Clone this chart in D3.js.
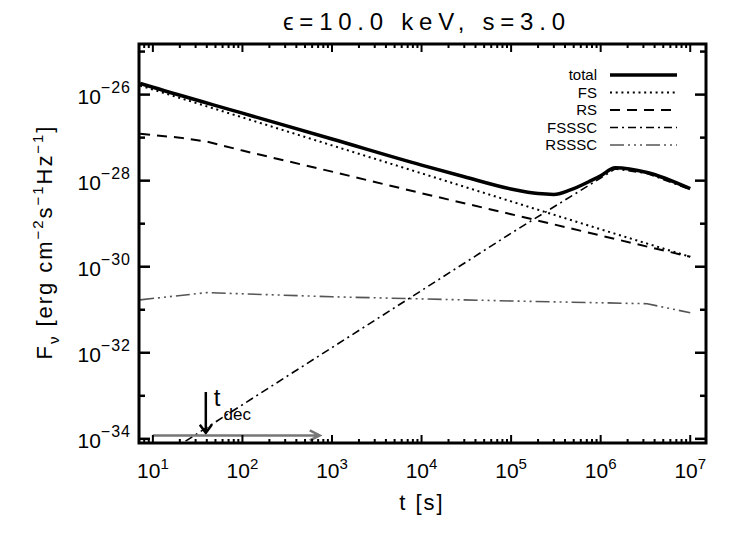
<!DOCTYPE html>
<html><head><meta charset="utf-8">
<script src="https://cdn.jsdelivr.net/npm/d3@7"></script>
<style>body{margin:0;background:#fff}svg{display:block}text{font-family:"Liberation Sans",Arial,sans-serif;fill:#000}</style>
</head><body><svg id="c" width="747" height="533"></svg>
<script>
// ---- data ----
const title = "ϵ=10.0 keV, s=3.0";
const xTickVals = [1e1, 1e2, 1e3, 1e4, 1e5, 1e6, 1e7];
const xTickExp = ["1", "2", "3", "4", "5", "6", "7"];
const yTickVals = [1e-26, 1e-28, 1e-30, 1e-32, 1e-34];
const yTickExp = ["−26", "−28", "−30", "−32", "−34"];
const yMinorVals = [1e-25, 1e-27, 1e-29, 1e-31, 1e-33];

const tTotal = [7.2, 10, 100, 1e3, 1e4, 3e4, 1e5, 2e5, 3e5, 4.5e5, 8e5, 1e6, 1.45e6, 3.3e6, 1e7];
const fTotal = [1.82e-26, 1.48e-26, 3.7e-27, 9.3e-28, 2.3e-28, 1.23e-28, 6.4e-29, 5.0e-29, 4.8e-29, 6.0e-29, 1.03e-28, 1.3e-28, 2.0e-28, 1.55e-28, 6.5e-29];
const tFS = [7.2, 1e2, 1e3, 1e4, 1e5, 1e6, 1e7];
const fFS = [1.62e-26, 2.95e-27, 6.6e-28, 1.48e-28, 3.3e-29, 7.4e-30, 1.7e-30];
const tRS = [7.2, 20, 40, 1e2, 1e3, 1e4, 1e5, 1e6, 1e7];
const fRS = [1.23e-27, 1.0e-27, 8.1e-28, 5.0e-28, 1.62e-28, 5.1e-29, 1.66e-29, 5.3e-30, 1.7e-30];
const tFSSSC = [7.2, 1e2, 1e3, 1e4, 1e5, 1e6, 1.45e6, 3.3e6, 1e7];
const fFSSSC = [1.86e-35, 6.2e-34, 1.32e-32, 2.8e-31, 6.0e-30, 1.15e-28, 1.88e-28, 1.47e-28, 6.2e-29];
const tRSSSC = [7.2, 40, 1e3, 1e5, 3.3e6, 1e7];
const fRSSSC = [1.7e-31, 2.5e-31, 2.0e-31, 1.6e-31, 1.38e-31, 8.5e-32];

const seriesNames = ["total", "FS", "RS", "FSSSC", "RSSSC"];
const tDec = 39;
const decArrowF = [1.23e-33, 1.38e-34];
const spanT = [10, 730];
const spanF = 1.2e-34;

// ---- styles ----
const styles = {
  total: {w: 3.5, dash: null, c: "#000"},
  FS: {w: 2, dash: "2,3.7", c: "#000"},
  RS: {w: 2, dash: "10,7", c: "#000"},
  FSSSC: {w: 1.6, dash: "8,4,2,4", c: "#000"},
  RSSSC: {w: 1.6, dash: "14,4,2,4,2,4,2,4", c: "#555"}
};
const seriesData = {
  total: tTotal.map((t, i) => [t, fTotal[i]]),
  FS: tFS.map((t, i) => [t, fFS[i]]),
  RS: tRS.map((t, i) => [t, fRS[i]]),
  FSSSC: tFSSSC.map((t, i) => [t, fFSSSC[i]]),
  RSSSC: tRSSSC.map((t, i) => [t, fRSSSC[i]])
};

const L = 139, R = 706, T = 44, B = 443;
const x = d3.scaleLog().domain([7, 1.5e7]).range([L, R]);
const y = d3.scaleLog().domain([8e-35, 1.5e-25]).range([B, T]);

const svg = d3.select("#c");
svg.append("rect").attr("width", 747).attr("height", 533).attr("fill", "#fff");
svg.append("defs").append("clipPath").attr("id", "clip")
  .append("rect").attr("x", L).attr("y", T).attr("width", R - L).attr("height", B - T);

const g = svg.append("g").attr("clip-path", "url(#clip)");
const line = d3.line().x(d => x(d[0])).y(d => y(d[1]));
const lineSmooth = d3.line().x(d => x(d[0])).y(d => y(d[1])).curve(d3.curveMonotoneX);

["RSSSC", "FSSSC", "RS", "FS", "total"].forEach(k => {
  const s = styles[k];
  g.append("path").datum(seriesData[k])
    .attr("d", k === "total" ? lineSmooth : line)
    .attr("fill", "none").attr("stroke", s.c).attr("stroke-width", s.w)
    .attr("stroke-dasharray", s.dash).attr("stroke-linejoin", "round");
});

// arrows
const ax = x(tDec), ay0 = y(decArrowF[0]), ay1 = y(decArrowF[1]);
svg.append("path").attr("d", `M${ax},${ay0}L${ax},${ay1}M${ax - 6},${ay1 - 8}L${ax},${ay1}L${ax + 6},${ay1 - 8}`)
  .attr("fill", "none").attr("stroke", "#000").attr("stroke-width", 2.5);
const gx0 = x(spanT[0]), gx1 = x(spanT[1]), gy = y(spanF);
svg.append("path").attr("d", `M${gx0},${gy}L${gx1},${gy}M${gx1 - 10},${gy - 5}L${gx1},${gy}L${gx1 - 10},${gy + 5}`)
  .attr("fill", "none").attr("stroke", "#777").attr("stroke-width", 2.5);
const td = svg.append("text").attr("x", ax + 8).attr("y", ay0 + 14).attr("font-size", 24);
td.append("tspan").text("t");
td.append("tspan").attr("dy", 14).attr("dx", 3).attr("font-size", 17).text("dec");

// ticks
const axes = svg.append("g").attr("stroke", "#000").attr("fill", "none");
const xMinor = [];
for (let e = 0; e <= 7; e++) for (let m = 1; m <= 9; m++) {
  const v = m * Math.pow(10, e);
  if (v >= 7 && v <= 1.5e7) xMinor.push(v);
}
xMinor.forEach(v => {
  const major = xTickVals.includes(v);
  const len = major ? 8 : 4;
  const px = x(v);
  axes.append("line").attr("x1", px).attr("x2", px).attr("y1", B).attr("y2", B - len).attr("stroke-width", 2);
  axes.append("line").attr("x1", px).attr("x2", px).attr("y1", T).attr("y2", T + len).attr("stroke-width", 2);
});
yTickVals.forEach(v => {
  const py = y(v);
  axes.append("line").attr("x1", L).attr("x2", L + 11).attr("y1", py).attr("y2", py).attr("stroke-width", 2.5);
  axes.append("line").attr("x1", R).attr("x2", R - 11).attr("y1", py).attr("y2", py).attr("stroke-width", 2.5);
});
yMinorVals.forEach(v => {
  const py = y(v);
  if (py < T || py > B) return;
  axes.append("line").attr("x1", L).attr("x2", L + 6).attr("y1", py).attr("y2", py).attr("stroke-width", 2.5);
  axes.append("line").attr("x1", R).attr("x2", R - 6).attr("y1", py).attr("y2", py).attr("stroke-width", 2.5);
});
svg.append("rect").attr("x", L).attr("y", T).attr("width", R - L).attr("height", B - T)
  .attr("fill", "none").attr("stroke", "#000").attr("stroke-width", 3);

// tick labels
xTickVals.forEach((v, i) => {
  const t = svg.append("text").attr("x", x(v)).attr("y", 478).attr("text-anchor", "middle").attr("font-size", 21);
  t.append("tspan").text("10");
  t.append("tspan").attr("dy", -9).attr("font-size", 15).text(xTickExp[i]);
});
yTickVals.forEach((v, i) => {
  const t = svg.append("text").attr("x", 131).attr("y", y(v) + 9).attr("text-anchor", "end").attr("font-size", 21);
  t.append("tspan").text("10");
  t.append("tspan").attr("dy", -11).attr("font-size", 16).attr("letter-spacing", 1).text(yTickExp[i]);
});

// titles
svg.append("text").attr("x", 424).attr("y", 30).attr("text-anchor", "middle").attr("font-size", 24)
  .attr("textLength", 282).attr("lengthAdjust", "spacing").text(title);
svg.append("text").attr("x", 422).attr("y", 510).attr("text-anchor", "middle").attr("font-size", 22)
  .attr("letter-spacing", 2).text("t [s]");
const yt = svg.append("text").attr("transform", "translate(52,243) rotate(-90)").attr("text-anchor", "middle")
  .attr("font-size", 22).attr("textLength", 233).attr("lengthAdjust", "spacing");
yt.append("tspan").text("F");
yt.append("tspan").attr("dy", 7).attr("font-size", 15).text("ν");
yt.append("tspan").attr("dy", -7).text(" [erg cm");
yt.append("tspan").attr("dy", -9).attr("font-size", 15).text("−2");
yt.append("tspan").attr("dy", 9).text("s");
yt.append("tspan").attr("dy", -9).attr("font-size", 15).text("−1");
yt.append("tspan").attr("dy", 9).text("Hz");
yt.append("tspan").attr("dy", -9).attr("font-size", 15).text("−1");
yt.append("tspan").attr("dy", 9).text("]");

// legend
seriesNames.forEach((k, i) => {
  const ly = 75 + i * 17.5;
  const s = styles[k];
  svg.append("text").attr("x", 597).attr("y", ly + 5).attr("text-anchor", "end").attr("font-size", 15).text(k);
  svg.append("line").attr("x1", 610).attr("x2", 677).attr("y1", ly).attr("y2", ly)
    .attr("stroke", s.c).attr("stroke-width", s.w).attr("stroke-dasharray", s.dash);
});
</script></body></html>
